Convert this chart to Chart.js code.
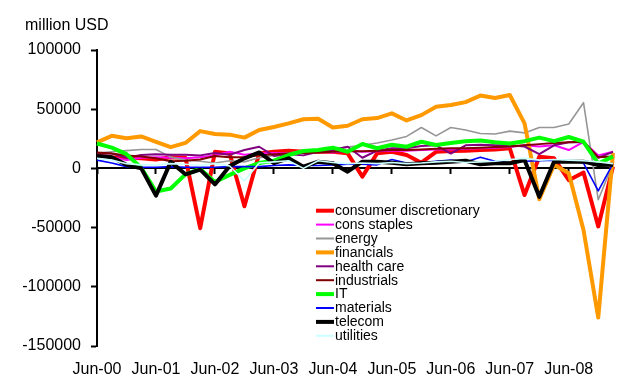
<!DOCTYPE html>
<html>
<head>
<meta charset="utf-8">
<style>
  html, body { margin: 0; padding: 0; background: #fff; }
  #wrap { width: 627px; height: 376px; }
</style>
<script src="https://cdn.jsdelivr.net/npm/chart.js@4/dist/chart.umd.min.js"></script>
</head>
<body>
<div id="wrap"><canvas id="c" width="627" height="376"></canvas></div>
<script>
// Quarterly net flows by sector, million USD
const quarters = [
  'Jun-00','Sep-00','Dec-00','Mar-01','Jun-01','Sep-01','Dec-01','Mar-02',
  'Jun-02','Sep-02','Dec-02','Mar-03','Jun-03','Sep-03','Dec-03','Mar-04',
  'Jun-04','Sep-04','Dec-04','Mar-05','Jun-05','Sep-05','Dec-05','Mar-06',
  'Jun-06','Sep-06','Dec-06','Mar-07','Jun-07','Sep-07','Dec-07','Mar-08',
  'Jun-08','Sep-08','Dec-08','Mar-09'
];

const consumerDiscretionary = [11000, 9500, 9000, 8500, 7500, 9500, 9000, -50500, 14000, 12500, -32000, 12500, 14000, 15000, 14000, 14000, 14000, 12700, -7000, 12700, 14000, 11300, 4800, 14000, 14700, 15000, 15500, 16000, 17000, -22500, 9900, 8500, -10000, -3500, -49000, 1500];
const consStaples = [10000, 9500, 7000, 9000, 9500, 9000, 8500, 9500, 11000, 14000, 11500, 12500, 13000, 12500, 13000, 14000, 13500, 15000, 14000, 14500, 15000, 15000, 15500, 16000, 16000, 16500, 17000, 17500, 18000, 19500, 18500, 19500, 15500, 22500, 11000, 14000];
const energy = [13000, 14000, 15000, 16000, 16000, 9500, 7000, 6000, 4500, 6500, 5500, 9000, 11000, 13000, 15000, 15500, 16500, 18000, 19500, 21500, 24000, 27000, 34500, 27500, 34500, 32500, 29500, 29000, 31500, 30000, 34500, 34500, 37500, 55500, -26500, 4000];
const financials = [22000, 27500, 25500, 27000, 22500, 18000, 21500, 31500, 29000, 28500, 26000, 32500, 35000, 38000, 41500, 42000, 34500, 36000, 41500, 42500, 46500, 40500, 45000, 52000, 53500, 56000, 61500, 59500, 62000, 38000, -26000, 3000, -4000, -52000, -126000, 13000];
const healthCare = [12700, 12500, 9000, 11300, 12000, 11500, 11500, 11000, 13000, 11500, 15500, 18300, 10500, 12000, 11000, 14000, 15500, 18300, 9000, 15000, 17000, 17000, 19000, 19500, 12500, 19500, 20000, 19500, 19500, 18500, 12000, 19500, 22000, 22000, 9000, 14000];
const industrials = [13500, 12500, 11000, 10000, 8500, 6000, 6500, 7500, 10500, 9500, 9500, 11000, 12000, 12500, 13000, 13500, 14000, 14500, 14500, 15000, 15500, 15500, 16000, 16500, 17000, 17000, 17500, 18000, 18500, 19500, 20500, 21500, 22000, 22500, 9500, 10000];
const infoTech = [21000, 17500, 12000, 500, -19500, -17000, -5000, -500, -11500, -5500, 0, 4500, 6500, 11300, 14700, 15500, 17500, 14100, 20600, 17000, 20000, 18300, 22500, 19800, 21500, 23000, 23500, 22000, 21000, 23000, 26000, 23000, 26500, 22500, 4000, 10000];
const materials = [7000, 4500, 1500, 1000, 1000, 1500, 1000, 1000, 1000, 1500, 1500, 1500, 2500, 3000, 2500, 2500, 3000, 3500, 3500, 3000, 7500, 4500, 5000, 6000, 7000, 5500, 9500, 6000, 5000, 6000, 6500, 7000, 6000, 4500, -19000, 4000];
const telecom = [10500, 9500, 3000, 0, -23000, 5500, -5000, -1000, -13500, 2000, 8500, 13500, 4500, 8500, 1500, 5700, 4300, -2800, 5700, 5700, 4800, 3500, 4300, 4800, 5700, 6500, 3500, 4300, 4300, 7100, -24000, 5700, 5700, 5700, 2900, 3000];
const utilities = [8500, 7000, 4000, 3000, 3000, 4000, 3500, 2500, 4000, 2000, -10500, 4500, 5500, 6500, 0, 6500, 5000, 4000, 4500, 4000, 5000, 4000, 4500, 5500, 6000, 5000, 5500, 6000, 7500, 8500, 7000, 7500, 7000, 6500, 5500, 4000];

const yTicks = [-150000, -100000, -50000, 0, 50000, 100000];
const unitLabel = 'million USD';

const FONT = '"Liberation Sans", Arial, Helvetica, sans-serif';
Chart.defaults.font.family = FONT;
Chart.defaults.color = '#000';

const seriesDefs = [
  ['consumer discretionary', consumerDiscretionary, '#FF0000', 4],
  ['cons staples',           consStaples,           '#FF00FF', 2],
  ['energy',                 energy,                '#969696', 1.6],
  ['financials',             financials,            '#FF9900', 4],
  ['health care',            healthCare,            '#800080', 2],
  ['industrials',            industrials,           '#800000', 2],
  ['IT',                     infoTech,              '#00FF00', 4],
  ['materials',              materials,             '#0000FF', 1.6],
  ['telecom',                telecom,               '#000000', 4],
  ['utilities',              utilities,             '#CCFFFF', 1.6]
];

const datasets = seriesDefs.map(([label, data, color, width], i) => ({
  label, data,
  borderColor: color,
  backgroundColor: color,
  borderWidth: width,
  pointRadius: 0,
  tension: 0,
  fill: false,
  borderJoinStyle: 'round',
  xAxisID: 'x',
  yAxisID: 'y',
  order: seriesDefs.length - i   // later series sit on top
}));

// Unit caption above the value axis and the key inside the plot
const captionAndKey = {
  id: 'captionAndKey',
  afterDraw(chart) {
    const ctx = chart.ctx;
    ctx.save();
    ctx.fillStyle = '#000';
    ctx.textAlign = 'left';
    ctx.textBaseline = 'alphabetic';
    ctx.font = '16px ' + FONT;
    ctx.fillText(unitLabel, 25, 29.5);

    ctx.font = '14px ' + FONT;
    ctx.textBaseline = 'middle';
    chart.data.datasets.forEach((ds, k) => {
      const y = 210.7 + k * 13.9;
      ctx.strokeStyle = ds.borderColor;
      ctx.lineWidth = ds.borderWidth >= 3 ? 4 : 2;
      ctx.lineCap = 'butt';
      ctx.beginPath();
      ctx.moveTo(316, y);
      ctx.lineTo(334, y);
      ctx.stroke();
      ctx.fillStyle = '#000';
      ctx.fillText(ds.label, 335, y + 0.5);
    });
    ctx.restore();
  }
};

new Chart(document.getElementById('c'), {
  type: 'line',
  data: { labels: quarters, datasets },
  plugins: [captionAndKey],
  options: {
    responsive: false,
    animation: false,
    devicePixelRatio: 1,
    layout: { padding: { left: 0, right: 12, top: 50, bottom: 0 } },
    plugins: { legend: { display: false }, tooltip: { enabled: false } },
    scales: {
      x: {
        type: 'category',
        position: 'bottom',
        offset: false,
        grid: { display: false, drawTicks: false },
        border: { display: false },
        ticks: {
          autoSkip: false,
          maxRotation: 0,
          minRotation: 0,
          padding: 14,
          color: '#000',
          font: { size: 16 },
          callback(v) {
            const l = this.getLabelForValue(v);
            return l.startsWith('Jun') ? l : '';
          }
        },
        afterFit(s) { s.height = 30; }
      },
      x0: {
        type: 'category',
        position: { y: 0 },
        offset: false,
        ticks: { display: false },
        grid: {
          drawOnChartArea: false,
          drawTicks: true,
          tickLength: 5,
          tickWidth: 2,
          tickColor: c => (quarters[c.index] || '').startsWith('Jun') ? '#000' : 'rgba(0,0,0,0)'
        },
        border: { display: true, color: '#000', width: 2 }
      },
      y: {
        min: yTicks[0],
        max: yTicks[yTicks.length - 1],
        afterBuildTicks(s) { s.ticks = yTicks.map(v => ({ value: v })); },
        ticks: {
          color: '#000',
          padding: 10,
          font: { size: 16 },
          callback: v => String(v)
        },
        grid: { drawOnChartArea: false, drawTicks: true, tickLength: 6, tickWidth: 2, tickColor: '#000' },
        border: { display: true, color: '#000', width: 2 },
        afterFit(s) { s.width = 97; }
      }
    }
  }
});
</script>
</body>
</html>
